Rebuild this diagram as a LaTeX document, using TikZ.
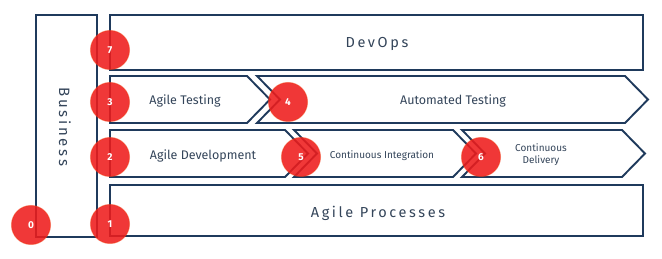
\documentclass[tikz,border=0pt]{standalone}
\usepackage{fontspec}
\setmainfont{Fira Sans}
\newfontfamily\spaced[LetterSpace=18]{Fira Sans}
\newfontfamily\spacedb[LetterSpace=18]{Fira Sans}
\definecolor{navy}{HTML}{1F3A5C}
\definecolor{txt}{HTML}{34455A}
\definecolor{dotred}{HTML}{EE1C1C}
\tikzset{
  frame/.style={draw=navy, line width=1.9pt, fill=white, line join=miter},
  lbl/.style={text=txt, font=\fontsize{12.5}{14}\selectfont, inner sep=0pt},
  small/.style={text=txt, font=\fontsize{10}{12}\selectfont, inner sep=0pt, align=center},
  dot/.style={circle, fill=dotred, fill opacity=0.88, text opacity=1, draw=dotred!70!orange, draw opacity=0.5, line width=1pt, minimum size=39pt, inner sep=0pt, text=white, font=\fontsize{10}{12}\selectfont\bfseries}
}
\begin{document}
\begin{tikzpicture}[x=1pt,y=-1pt]
\useasboundingbox (0,0) rectangle (662,259);
% Business
\draw[frame] (36,15) rectangle (97,237);
\node[text=txt, rotate=-90, font=\fontsize{15}{17}\spacedb, inner sep=0pt] (bus) at (65,127) {Business};
% DevOps
\draw[frame] (110,15) rectangle (643,70);
\node[text=txt, font=\fontsize{14.5}{16}\spaced, inner sep=0pt] (devops) at (377,44) {DevOps};
% Row 1
\draw[frame] (110,76) -- (247,76) -- (270,99.5) -- (247,123) -- (110,123) -- cycle;
\draw[frame] (257,76) -- (625,76) -- (648,99.5) -- (625,123) -- (257,123) -- (280,99.5) -- cycle;
\node[lbl] (at) at (185,101) {Agile Testing};
\node[lbl] (aut) at (453,101) {Automated Testing};
% Row 2
\draw[frame] (110,130) -- (285,130) -- (308,153.5) -- (285,177) -- (110,177) -- cycle;
\draw[frame] (294,130) -- (453,130) -- (476,153.5) -- (453,177) -- (294,177) -- (317,153.5) -- cycle;
\draw[frame] (462,130) -- (622,130) -- (645,153.5) -- (622,177) -- (462,177) -- (485,153.5) -- cycle;
\node[lbl] (ad) at (203,156) {Agile Development};
\node[small] (ci) at (382,156) {Continuous Integration};
\node[small] (cd) at (541,155) {Continuous\\Delivery};
% Agile Processes
\draw[frame] (110,185) rectangle (643,236);
\node[text=txt, font=\fontsize{14.5}{16}\spaced, inner sep=0pt] (ap) at (378,213) {Agile Processes};
% dots
\node[dot] (d7) at (110,50) {7};
\node[dot] (d3) at (110,102) {3};
\node[dot] (d2) at (110,157) {2};
\node[dot] (d1) at (110,224) {1};
\node[dot] (d0) at (31,225) {0};
\node[dot] (d4) at (288,102) {4};
\node[dot] (d5) at (301,157) {5};
\node[dot] (d6) at (481,157) {6};
\end{tikzpicture}
\end{document}
